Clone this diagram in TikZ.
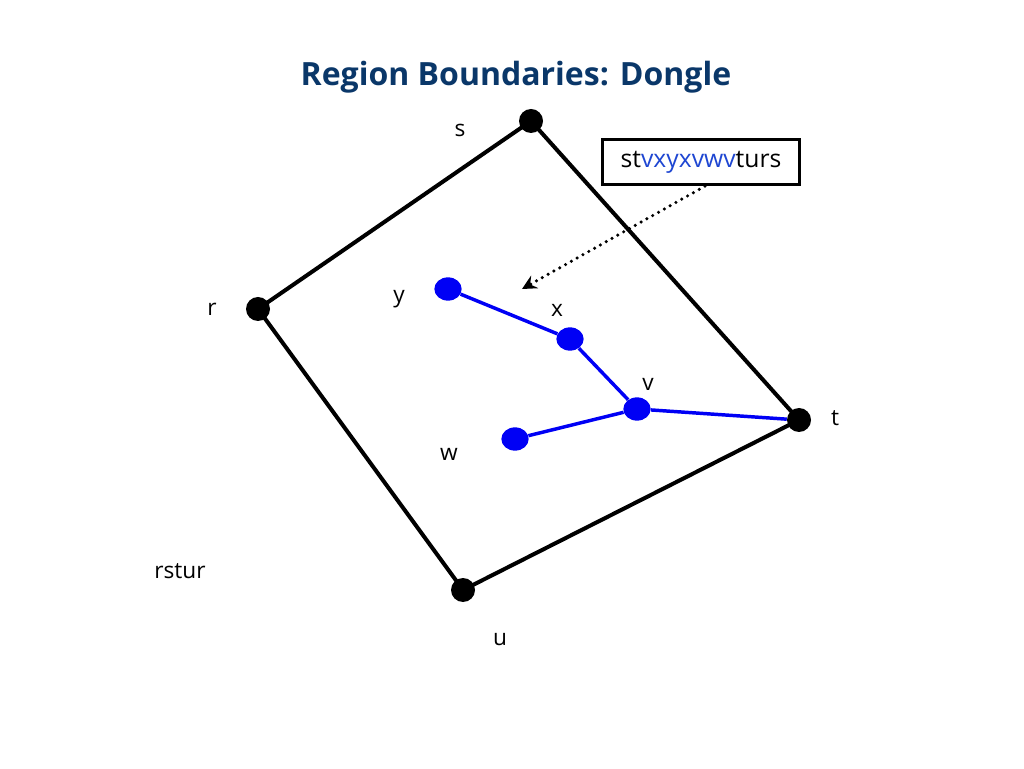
\documentclass[tikz,border=0pt]{standalone}
\usepackage{fontspec}
\setmainfont{Open Sans}
\usepackage{tikz}
\usetikzlibrary{arrows,arrows.meta,shapes,positioning}
\usepackage{xcolor}
\definecolor{rbnavy}{RGB}{10,55,105}
\definecolor{rbblue}{RGB}{0,0,245}
\definecolor{rbtext}{RGB}{30,70,210}
\tikzstyle{vertex} = [circle, fill=black, inner sep=0pt, minimum size=18pt]
\tikzstyle{dongle} = [ellipse, fill=rbblue, inner sep=0pt, minimum width=20.5pt, minimum height=17.5pt]
\tikzstyle{outer} = [line width=3pt, color=black]
\tikzstyle{inner} = [line width=2.6pt, color=rbblue]
\tikzstyle{vlabel} = [font=\fontsize{17}{20}\selectfont]
\tikzstyle{walk} = [rectangle, draw=black, line width=2.2pt, fill=white, minimum width=148pt, minimum height=34pt, font=\fontsize{18.5}{22}\selectfont]

\begin{document}
\begin{tikzpicture}[x=0.75pt, y=0.75pt]
    \useasboundingbox (0,0) rectangle (1024,768);
    % Title
    \node[font=\fontsize{24}{29}\selectfont\bfseries, text=rbnavy] (title) at (516,691) {Region Boundaries: Dongle};

    % Outer face
    \node[vertex] (s) at (531,647) {};
    \node[vertex] (r) at (258,459) {};
    \node[vertex] (t) at (799,348) {};
    \node[vertex] (u) at (463,178) {};
    \draw[outer] (r.center) -- (s.center) -- (t.center) -- (u.center) -- (r.center);

    % Dongle
    \node[dongle] (y) at (448,479) {};
    \node[dongle] (x) at (570,429) {};
    \node[dongle] (v) at (637,359) {};
    \node[dongle] (w) at (515,329) {};
    \draw[inner] (y) -- (x) -- (v) -- (t);
    \draw[inner] (w) -- (v);

    % Labels
    \node[vlabel] (ls) at (460,638) {s};
    \node[vlabel] (lr) at (212,459) {r};
    \node[vlabel] (lt) at (835,350) {t};
    \node[vlabel] (lu) at (500,128) {u};
    \node[vlabel] (ly) at (399,469) {y};
    \node[vlabel] (lx) at (557,458) {x};
    \node[vlabel] (lv) at (648,384) {v};
    \node[vlabel] (lw) at (449,314) {w};
    \node[vlabel] (rstur) at (180,197) {rstur};

    % Boundary walk
    \node[walk] (bw) at (701,606) {st\textcolor{rbtext}{vxyxvwv}turs};
    \coordinate (tip) at (522,479);
    \draw[line width=2.6pt, line cap=round, dash pattern=on 0pt off 5pt, -{Stealth[length=11pt, width=11pt, inset=4pt, line cap=butt, line width=1pt, sep=0pt]}] (bw.south) ++(4,0) -- (tip);
\end{tikzpicture}
\end{document}
